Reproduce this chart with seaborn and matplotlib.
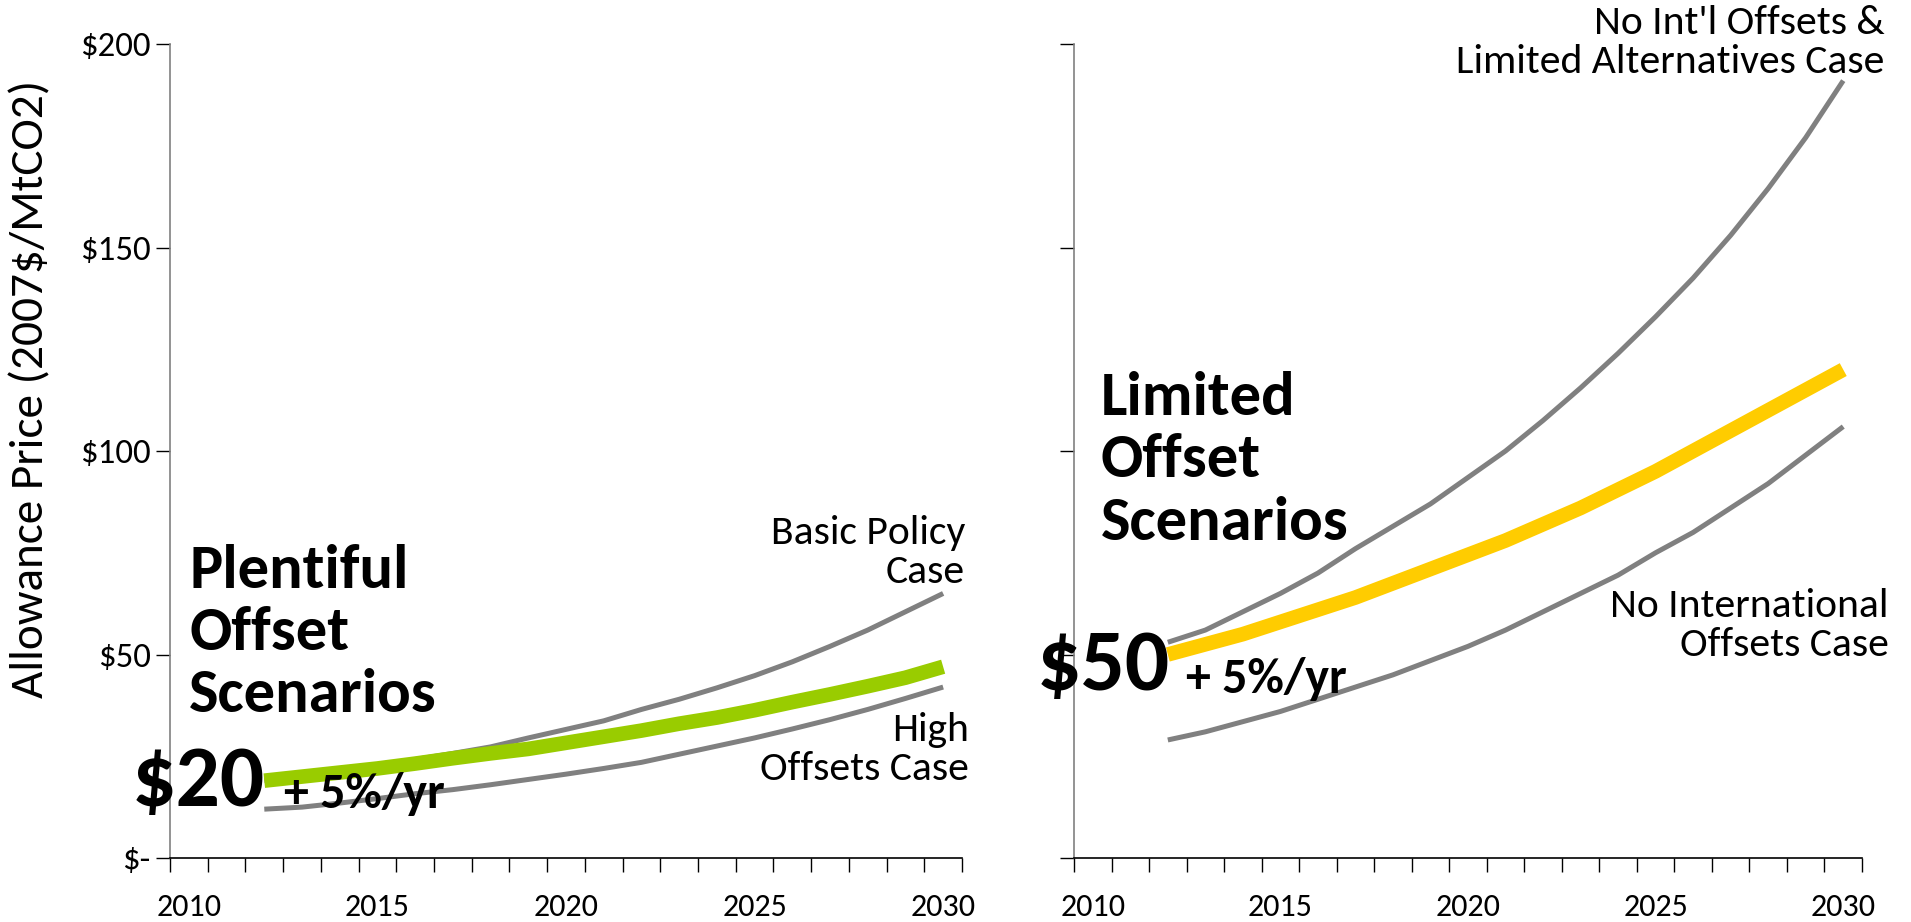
import matplotlib
matplotlib.use("Agg")
import matplotlib.pyplot as plt
import seaborn as sns
import pandas as pd
import numpy as np
from matplotlib.ticker import FixedLocator

years = list(range(2012, 2031))

basic_policy = [19, 20.3, 21.5, 22.8, 24.2, 25.7, 27.3, 29.5, 31.6, 33.7, 36.5, 39, 41.8, 44.8, 48.2, 52, 56, 60.5, 65]
high_offsets = [12, 12.5, 13.5, 14.6, 15.8, 16.8, 18, 19.3, 20.6, 22, 23.5, 25.5, 27.5, 29.5, 31.7, 34, 36.5, 39.2, 42]
plentiful = [19, 20, 21, 22, 23.2, 24.5, 25.7, 26.8, 28.3, 29.8, 31.3, 33, 34.5, 36.3, 38.3, 40.2, 42.2, 44.3, 47]

no_intl_limited = [53, 56, 60.5, 65, 70, 76, 81.5, 87, 93.5, 100, 107.5, 115.5, 124, 133, 142.5, 153, 164.5, 177, 191]
limited = [50, 52.5, 55, 58, 61, 64, 67.5, 71, 74.5, 78, 82, 86, 90.5, 95, 100, 105, 110, 115, 120]
no_intl = [29, 31, 33.5, 36, 39, 42, 45, 48.5, 52, 56, 60.5, 65, 69.5, 75, 80, 86, 92, 99, 106]

y_ticks = [0, 50, 100, 150, 200]
y_tick_labels = ["$-", "$50", "$100", "$150", "$200"]
x_ticks = [2010, 2015, 2020, 2025, 2030]

sns.set_style("white")
NARROW = ["Carlito", "Fira Sans Condensed", "DejaVu Sans"]
plt.rcParams["font.family"] = NARROW
plt.rcParams["text.color"] = "black"

GRAY = "#808080"
GREEN = "#99CC00"
YELLOW = "#FFCC00"

fig = plt.figure(figsize=(19.11, 9.22), dpi=100)
axL = fig.add_axes([170 / 1911, 64 / 922, 792 / 1911, 814 / 922])
axR = fig.add_axes([1074 / 1911, 64 / 922, 788 / 1911, 814 / 922])


def draw(ax, series):
    for vals, color, lw in series:
        df = pd.DataFrame({"year": years, "price": vals})
        sns.lineplot(data=df, x="year", y="price", ax=ax, color=color, linewidth=lw,
                     solid_capstyle="butt")


draw(axL, [(basic_policy, GRAY, 3.6), (high_offsets, GRAY, 3.6), (plentiful, GREEN, 10.5)])
draw(axR, [(no_intl_limited, GRAY, 3.6), (no_intl, GRAY, 3.6), (limited, YELLOW, 10.5)])

for ax in (axL, axR):
    ax.set_xlim(2009.5, 2030.5)
    ax.set_ylim(0, 200)
    ax.set_xlabel("")
    ax.set_ylabel("")
    for s in ("top", "right"):
        ax.spines[s].set_visible(False)
    ax.spines["left"].set_color(GRAY)
    ax.spines["left"].set_linewidth(1.2)
    ax.spines["bottom"].set_color("black")
    ax.spines["bottom"].set_linewidth(1.2)
    ax.set_xticks(x_ticks)
    ax.set_xticklabels([str(x) for x in x_ticks], fontsize=23, color="black")
    ax.xaxis.set_minor_locator(FixedLocator(np.arange(2009.5, 2031, 1)))
    ax.tick_params(axis="x", which="major", length=0, pad=25)
    ax.tick_params(axis="x", which="minor", length=10, width=1, color="black", direction="out", bottom=True)
    ax.set_yticks(y_ticks)
    ax.tick_params(axis="y", which="major", length=10, width=1, color="black", direction="out", left=True, pad=4)
    ax.grid(False)

axL.set_yticklabels(y_tick_labels, fontsize=25, color="black")
axR.set_yticklabels([])

fig.text(31 / 1911, 1 - 389 / 922, "Allowance Price (2007$/MtCO2)", rotation=90,
         ha="center", va="center", fontsize=34)

BIG = dict(ha="left", va="baseline", fontsize=45, fontweight="bold", linespacing=1.19)
CASE = dict(ha="right", va="baseline", fontsize=30, linespacing=1.11)

# left annotations
axL.text(0.024, 0.179, "Plentiful\nOffset\nScenarios", transform=axL.transAxes, **BIG)
axL.text(-0.048, 0.064, "$20", transform=axL.transAxes, ha="left", va="baseline",
         fontsize=63, fontweight="bold")
axL.text(0.144, 0.062, "+ 5%/yr", transform=axL.transAxes, ha="left", va="baseline",
         fontsize=36, fontweight="bold")
axL.text(1.004, 0.338, "Basic Policy\nCase", transform=axL.transAxes, **CASE)
axL.text(1.009, 0.096, "High\nOffsets Case", transform=axL.transAxes, **CASE)

# right annotations
axR.text(0.034, 0.391, "Limited\nOffset\nScenarios", transform=axR.transAxes, **BIG)
axR.text(-0.047, 0.206, "$50", transform=axR.transAxes, ha="left", va="baseline",
         fontsize=63, fontweight="bold")
axR.text(0.142, 0.203, "+ 5%/yr", transform=axR.transAxes, ha="left", va="baseline",
         fontsize=36, fontweight="bold")
axR.text(1.029, 0.964, "No Int'l Offsets &\nLimited Alternatives Case", transform=axR.transAxes, **CASE)
axR.text(1.034, 0.248, "No International\nOffsets Case", transform=axR.transAxes, **CASE)

fig.savefig("out.png", dpi=100)
